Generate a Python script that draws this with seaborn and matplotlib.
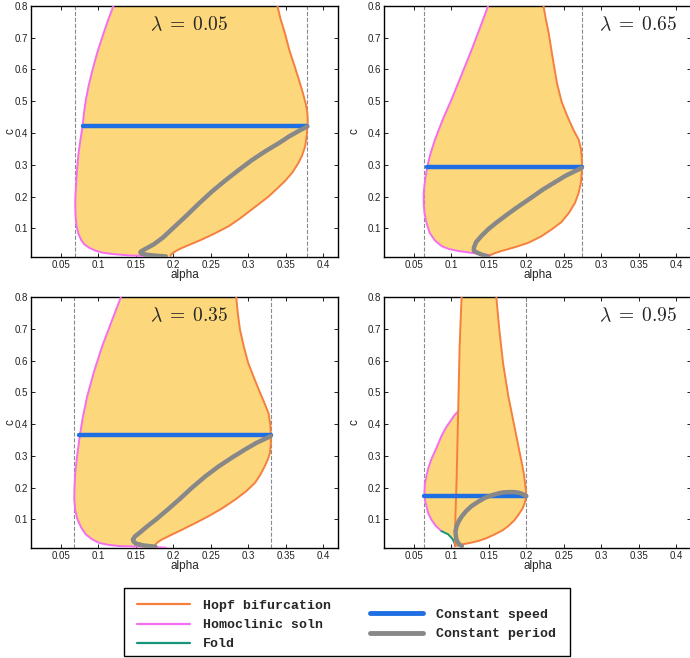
import matplotlib
matplotlib.use("Agg")
import matplotlib.pyplot as plt
import pandas as pd
import seaborn as sns
from matplotlib.lines import Line2D
from matplotlib.patches import Rectangle

sns.set_theme(style="ticks")
plt.rcParams["font.family"] = ["Liberation Sans", "DejaVu Sans"]
plt.rcParams["mathtext.fontset"] = "cm"

# colours
HOPF = "#f5803e"
HOMO = "#f56ef2"
FOLD = "#16957a"
SPEED = "#1f6fe3"
PERIOD = "#888888"
FILL = "#fcd77b"

xticks = [0.05, 0.1, 0.15, 0.2, 0.25, 0.3, 0.35, 0.4]
xtick_labels = ["0.05", "0.1", "0.15", "0.2", "0.25", "0.3", "0.35", "0.4"]
yticks = [0.1, 0.2, 0.3, 0.4, 0.5, 0.6, 0.7, 0.8]
ytick_labels = ["0.1", "0.2", "0.3", "0.4", "0.5", "0.6", "0.7", "0.8"]

# ---- lambda = 0.05  (alpha, c)
homo_005 = [(0.120, 0.8), (0.112, 0.75), (0.1054, 0.704), (0.098, 0.65), (0.0921, 0.599),
            (0.087, 0.55), (0.0832, 0.505), (0.0805, 0.46), (0.0788, 0.421), (0.076, 0.38),
            (0.0735, 0.338), (0.0715, 0.29), (0.070, 0.233), (0.0692, 0.2), (0.069, 0.170),
            (0.0695, 0.135), (0.0708, 0.107), (0.073, 0.085), (0.0766, 0.065), (0.081, 0.05),
            (0.0877, 0.039), (0.096, 0.03), (0.105, 0.024), (0.12, 0.019), (0.141, 0.015),
            (0.165, 0.013), (0.19, 0.011)]
hopf_005 = [(0.339, 0.8), (0.343, 0.76), (0.349, 0.714), (0.355, 0.66), (0.362, 0.61),
            (0.368, 0.565), (0.373, 0.526), (0.377, 0.49), (0.379, 0.463), (0.3795, 0.44),
            (0.379, 0.42), (0.378, 0.39), (0.376, 0.358), (0.372, 0.33), (0.367, 0.306),
            (0.359, 0.276), (0.349, 0.249), (0.338, 0.224), (0.327, 0.20), (0.316, 0.18),
            (0.305, 0.16), (0.29, 0.133), (0.274, 0.107), (0.256, 0.085), (0.238, 0.065),
            (0.224, 0.051), (0.212, 0.039), (0.205, 0.031), (0.2, 0.024), (0.197, 0.018),
            (0.196, 0.013)]
speed_005 = [(0.0788, 0.421), (0.379, 0.421)]
period_005 = [(0.379, 0.421), (0.367, 0.406), (0.355, 0.39), (0.34, 0.367), (0.323, 0.343),
              (0.305, 0.315), (0.288, 0.285), (0.27, 0.252), (0.252, 0.217), (0.234, 0.178),
              (0.217, 0.139), (0.201, 0.104), (0.186, 0.071), (0.174, 0.05), (0.163, 0.036),
              (0.157, 0.028), (0.156, 0.024), (0.158, 0.02), (0.165, 0.017), (0.177, 0.014),
              (0.19, 0.012)]
bounds_005 = [0.069, 0.379]

# ---- lambda = 0.65
homo_065 = [(0.149, 0.8), (0.138, 0.73), (0.127, 0.662), (0.113, 0.58), (0.10, 0.505),
            (0.088, 0.44), (0.078, 0.379), (0.072, 0.335), (0.068, 0.296), (0.065, 0.255),
            (0.063, 0.212), (0.063, 0.18), (0.064, 0.149), (0.067, 0.115), (0.071, 0.086),
            (0.078, 0.062), (0.087, 0.044), (0.097, 0.035), (0.109, 0.029), (0.127, 0.023),
            (0.145, 0.018), (0.152, 0.016)]
hopf_065 = [(0.223, 0.8), (0.226, 0.76), (0.23, 0.714), (0.235, 0.64), (0.241, 0.557),
            (0.247, 0.5), (0.255, 0.452), (0.263, 0.41), (0.27, 0.379), (0.273, 0.35),
            (0.274, 0.327), (0.2745, 0.3), (0.274, 0.275), (0.273, 0.245), (0.27, 0.212),
            (0.265, 0.18), (0.257, 0.149), (0.247, 0.12), (0.234, 0.097), (0.22, 0.075),
            (0.203, 0.055), (0.185, 0.041), (0.167, 0.029), (0.158, 0.022), (0.152, 0.016)]
speed_065 = [(0.068, 0.294), (0.274, 0.294)]
period_065 = [(0.274, 0.29), (0.264, 0.279), (0.252, 0.265), (0.238, 0.245), (0.222, 0.222),
              (0.205, 0.194), (0.187, 0.165), (0.173, 0.141), (0.16, 0.118), (0.149, 0.097),
              (0.14, 0.076), (0.133, 0.057), (0.13, 0.039), (0.13, 0.03), (0.134, 0.024),
              (0.141, 0.017), (0.149, 0.011)]
bounds_065 = [0.063, 0.274]

# ---- lambda = 0.35
homo_035 = [(0.13, 0.8), (0.117, 0.72), (0.105, 0.645), (0.094, 0.565), (0.085, 0.488),
            (0.079, 0.42), (0.075, 0.362), (0.0715, 0.3), (0.069, 0.247), (0.068, 0.2),
            (0.0677, 0.163), (0.069, 0.128), (0.072, 0.10), (0.077, 0.074), (0.083, 0.053),
            (0.091, 0.038), (0.101, 0.026), (0.113, 0.02), (0.128, 0.016), (0.159, 0.014),
            (0.19, 0.011)]
hopf_035 = [(0.284, 0.8), (0.286, 0.75), (0.289, 0.697), (0.294, 0.645), (0.30, 0.592),
            (0.307, 0.55), (0.314, 0.509), (0.321, 0.47), (0.327, 0.435), (0.3295, 0.4),
            (0.330, 0.372), (0.3302, 0.34), (0.329, 0.309), (0.326, 0.288), (0.322, 0.267),
            (0.316, 0.24), (0.309, 0.215), (0.297, 0.188), (0.283, 0.163), (0.266, 0.136),
            (0.247, 0.11), (0.229, 0.088), (0.212, 0.068), (0.197, 0.051), (0.185, 0.037),
            (0.179, 0.028), (0.176, 0.021), (0.177, 0.016)]
speed_035 = [(0.074, 0.365), (0.33, 0.365)]
period_035 = [(0.33, 0.362), (0.321, 0.352), (0.311, 0.341), (0.295, 0.319), (0.278, 0.294),
              (0.26, 0.266), (0.243, 0.236), (0.225, 0.2), (0.208, 0.163), (0.192, 0.13),
              (0.177, 0.10), (0.165, 0.078), (0.155, 0.058), (0.149, 0.047), (0.146, 0.037),
              (0.147, 0.03), (0.15, 0.024), (0.16, 0.018), (0.176, 0.014)]
bounds_035 = [0.0677, 0.330]

# ---- lambda = 0.95
hopf_inner_095 = [(0.1136, 0.8), (0.111, 0.645), (0.109, 0.435), (0.107, 0.226),
                  (0.1055, 0.12), (0.1046, 0.016)]
hopf_outer_095 = [(0.1046, 0.016), (0.1136, 0.021), (0.125, 0.026), (0.136, 0.032),
                  (0.147, 0.041), (0.158, 0.053), (0.168, 0.065), (0.176, 0.079),
                  (0.184, 0.097), (0.19, 0.116), (0.195, 0.134), (0.198, 0.152), (0.2, 0.175),
                  (0.199, 0.2), (0.197, 0.24), (0.194, 0.278), (0.185, 0.383), (0.176, 0.488),
                  (0.169, 0.592), (0.164, 0.697), (0.16, 0.8)]
homo_095 = [(0.109, 0.44), (0.104, 0.428), (0.1, 0.414), (0.093, 0.39), (0.0867, 0.362),
            (0.08, 0.325), (0.073, 0.288), (0.069, 0.26), (0.0666, 0.236), (0.0645, 0.21),
            (0.064, 0.184), (0.0648, 0.16), (0.0666, 0.142), (0.069, 0.12), (0.073, 0.10),
            (0.079, 0.08), (0.0867, 0.063)]
fold_095 = [(0.0867, 0.063), (0.0957, 0.053), (0.102, 0.037), (0.105, 0.021)]
speed_095 = [(0.064, 0.175), (0.2, 0.175)]
period_095 = [(0.2, 0.173), (0.195, 0.18), (0.19, 0.184), (0.183, 0.186), (0.176, 0.186),
              (0.169, 0.185), (0.163, 0.182), (0.154, 0.176), (0.145, 0.168), (0.136, 0.156),
              (0.127, 0.142), (0.12, 0.127), (0.114, 0.11), (0.11, 0.095), (0.107, 0.079),
              (0.1055, 0.063), (0.106, 0.047), (0.107, 0.035), (0.109, 0.026), (0.111, 0.02),
              (0.114, 0.016)]
bounds_095 = [0.063, 0.2]


def draw_curve(ax, pts, color, lw, z):
    df = pd.DataFrame(pts, columns=["alpha", "c"])
    sns.lineplot(data=df, x="alpha", y="c", sort=False, estimator=None,
                 color=color, lw=lw, ax=ax, zorder=z)


def style_axes(ax, label, lx, ylab_x):
    ax.set_xlim(0.01, 0.42)
    ax.set_ylim(0.01, 0.8)
    ax.set_xticks(xticks)
    ax.set_xticklabels(xtick_labels)
    ax.set_yticks(yticks)
    ax.set_yticklabels(ytick_labels)
    ax.tick_params(direction="in", top=True, right=True, length=3, width=0.7,
                   labelsize=7, pad=2, colors="#222222")
    for s in ax.spines.values():
        s.set_color("black")
        s.set_linewidth(1.0)
    ax.set_xlabel("alpha", fontsize=8.5, labelpad=-0.5)
    ax.set_ylabel("c", fontsize=8.5)
    ax.yaxis.set_label_coords(ylab_x, 0.5)
    ax.text(lx, 0.74, label, fontsize=14, ha="center", va="center", zorder=10)


fig = plt.figure(figsize=(6.9, 6.58), dpi=100)
ax1 = fig.add_axes([0.045, 0.6094, 0.445, 0.3816])
ax2 = fig.add_axes([0.5565, 0.6094, 0.445, 0.3816])
ax3 = fig.add_axes([0.045, 0.1672, 0.445, 0.3814])
ax4 = fig.add_axes([0.5565, 0.1672, 0.445, 0.3814])

simple_panels = [
    (ax1, homo_005, hopf_005, speed_005, period_005, bounds_005, r"$\lambda\;=\;0.05$", 0.221, -0.049),
    (ax2, homo_065, hopf_065, speed_065, period_065, bounds_065, r"$\lambda\;=\;0.65$", 0.35, -0.075),
    (ax3, homo_035, hopf_035, speed_035, period_035, bounds_035, r"$\lambda\;=\;0.35$", 0.221, -0.049),
]

for ax, homo, hopf, speed, period, bounds, label, lx, ylx in simple_panels:
    poly = homo + hopf[::-1]
    ax.fill([p[0] for p in poly], [p[1] for p in poly], color=FILL, lw=0, zorder=1)
    for b in bounds:
        ax.axvline(b, color="#8a8a8a", lw=0.8, ls="--", zorder=2)
    draw_curve(ax, homo, HOMO, 1.4, 3)
    draw_curve(ax, hopf, HOPF, 1.4, 3)
    draw_curve(ax, speed, SPEED, 3.2, 4)
    draw_curve(ax, period, PERIOD, 3.2, 5)
    style_axes(ax, label, lx, ylx)

# lambda = 0.95 has an extra Hopf branch and a fold
poly = hopf_inner_095[:3] + homo_095 + fold_095 + hopf_outer_095
ax4.fill([p[0] for p in poly], [p[1] for p in poly], color=FILL, lw=0, zorder=1)
for b in bounds_095:
    ax4.axvline(b, color="#8a8a8a", lw=0.8, ls="--", zorder=2)
draw_curve(ax4, homo_095, HOMO, 1.4, 3)
draw_curve(ax4, fold_095, FOLD, 1.4, 3)
draw_curve(ax4, hopf_inner_095, HOPF, 1.4, 3)
draw_curve(ax4, hopf_outer_095, HOPF, 1.4, 3)
draw_curve(ax4, speed_095, SPEED, 3.2, 4)
draw_curve(ax4, period_095, PERIOD, 3.2, 5)
style_axes(ax4, r"$\lambda\;=\;0.95$", 0.35, -0.075)

# legend box with two columns
fig.patches.append(Rectangle((0.179, 0.003), 0.647, 0.103, transform=fig.transFigure,
                             fill=False, edgecolor="black", lw=1.0))
mono = {"family": "Liberation Mono", "size": 9.5, "weight": "bold"}
h1 = [Line2D([], [], color=HOPF, lw=1.6), Line2D([], [], color=HOMO, lw=1.6),
      Line2D([], [], color=FOLD, lw=1.6)]
h2 = [Line2D([], [], color=SPEED, lw=3.5), Line2D([], [], color=PERIOD, lw=3.5)]
fig.legend(h1, ["Hopf bifurcation", "Homoclinic soln", "Fold"], loc="center left",
           bbox_to_anchor=(0.199, 0.05), frameon=False, prop=mono, handlelength=4,
           handletextpad=1.0, labelspacing=0.53, borderpad=0, borderaxespad=0)
fig.legend(h2, ["Constant speed", "Constant period"], loc="center left",
           bbox_to_anchor=(0.536, 0.051), frameon=False, prop=mono, handlelength=4,
           handletextpad=1.0, labelspacing=0.53, borderpad=0, borderaxespad=0)

fig.savefig("out.png", dpi=100)
